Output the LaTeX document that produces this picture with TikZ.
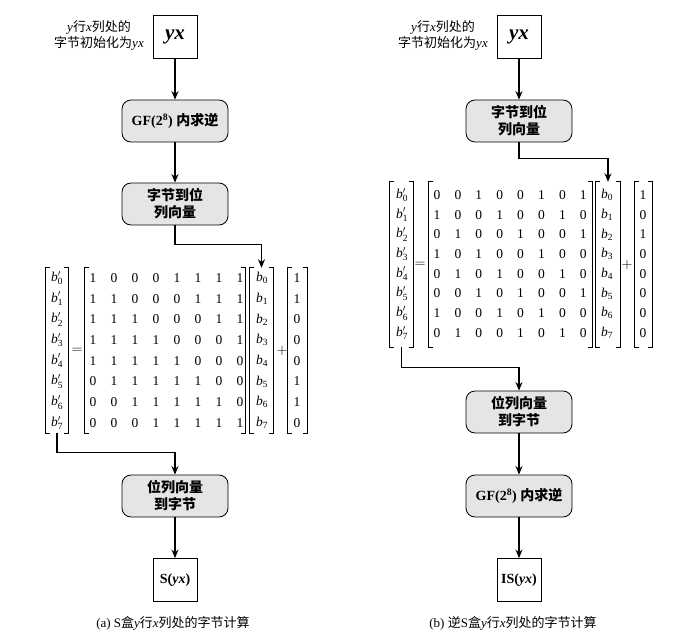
\documentclass[tikz,border=0pt]{standalone}
\usepackage{fontspec}
\setmainfont{Liberation Serif}
\newfontfamily\cjk{Noto Sans CJK SC}
\usetikzlibrary{arrows.meta}
\newcommand{\zh}[1]{{\cjk #1}}
\newcommand{\bp}[1]{\textit{b}${}'_{\mathrm{#1}}$}
\newcommand{\bq}[1]{\textit{b}${}_{\mathrm{#1}}$}
\newcommand{\vecbox}[5]{%
  \node[inner sep=0pt,minimum width=#4pt,minimum height=#5pt] (#1) at (#2,#3) {};
  \draw[brk] ([xshift=4pt]#1.north west) -- (#1.north west) -- (#1.south west) -- ([xshift=4pt]#1.south west);
  \draw[brk] ([xshift=-4pt]#1.north east) -- (#1.north east) -- (#1.south east) -- ([xshift=-4pt]#1.south east);}
\begin{document}
\begin{tikzpicture}[x=1pt,y=-1pt,
  proc/.style={draw,rounded corners=9pt,fill=gray!20,minimum width=106pt,minimum height=42pt,align=center,font=\fontsize{14}{17}\selectfont\bfseries,line width=0.8pt,inner sep=2pt},
  sq/.style={draw,minimum width=44pt,minimum height=43pt,line width=0.8pt,inner sep=0pt},
  arr/.style={-{Stealth[length=8.5pt,width=7pt]},line width=1.3pt},
  brk/.style={line width=0.9pt},
  ent/.style={font=\fontsize{13.5}{15}\selectfont,inner sep=0pt},
  lab/.style={align=center,font=\fontsize{13}{16}\selectfont,inner sep=0pt},
  captxt/.style={font=\fontsize{13}{16}\selectfont,inner sep=0pt}]
\useasboundingbox (0,0) rectangle (699,639);

% ---------------- left (a) ----------------
\node[sq] (Ain) at (175,37) {\fontsize{21}{24}\selectfont\bfseries\itshape yx};
\node[lab] (Alab) at (99,35) {\textit{y}\zh{行}\textit{x}\zh{列处的}\\\zh{字节初始化为}\textit{yx}};
\node[proc] (Agf) at (175,121) {GF(2\textsuperscript{8}) \zh{内求逆}};
\node[proc] (Ab2v) at (175,204) {\zh{字节到位}\\\zh{列向量}};

\vecbox{Abp}{57}{350.5}{22}{165}
\vecbox{Am}{165}{350.5}{160}{165}
\vecbox{Ab}{261.5}{350.5}{23}{165}
\vecbox{Ac}{297.5}{350.5}{19}{165}
\node[ent] (Aeq) at (77,350.5) {$=$};
\node[ent] (Aplus) at (282,350.5) {$+$};
\foreach \r [count=\i from 0] in {{1,0,0,0,1,1,1,1},{1,1,0,0,0,1,1,1},{1,1,1,0,0,0,1,1},{1,1,1,1,0,0,0,1},{1,1,1,1,1,0,0,0},{0,1,1,1,1,1,0,0},{0,0,1,1,1,1,1,0},{0,0,0,1,1,1,1,1}}{
  \foreach \v [count=\j from 0] in \r {
    \node[ent] (Am-\i-\j) at ({93+21*\j},{278+20.7*\i}) {\v};
  }
}
\foreach \v [count=\i from 0] in {1,1,0,0,0,1,1,0}{
  \node[ent] (Abp-\i) at (57,{278+20.7*\i}) {\bp{\i}};
  \node[ent] (Ab-\i) at (262,{278+20.7*\i}) {\bq{\i}};
  \node[ent] (Ac-\i) at (297,{278+20.7*\i}) {\v};
}
\node[proc] (Av2b) at (175,496) {\zh{位列向量}\\\zh{到字节}};
\node[sq] (Aout) at (175,580) {\fontsize{14}{17}\selectfont\textbf{S(\textit{yx})}};
\node[captxt] (Acap) at (173,623) {(a) S\zh{盒}\textit{y}\zh{行}\textit{x}\zh{列处的字节计算}};

\draw[arr] (Ain) -- (Agf);
\draw[arr] (Agf) -- (Ab2v);
\draw[arr] (Ab2v.south) -- ++(0,19) -| (Ab.north);
\draw[arr] (Abp.south) -- ++(0,19) -| (Av2b.north);
\draw[arr] (Av2b) -- (Aout);

% ---------------- right (b) ----------------
\node[sq] (Bin) at (519,37) {\fontsize{21}{24}\selectfont\bfseries\itshape yx};
\node[lab] (Blab) at (443,35) {\textit{y}\zh{行}\textit{x}\zh{列处的}\\\zh{字节初始化为}\textit{yx}};
\node[proc] (Bb2v) at (519,121) {\zh{字节到位}\\\zh{列向量}};

\vecbox{Bbp}{401.5}{264.5}{23}{165}
\vecbox{Bm}{510.5}{264.5}{163}{165}
\vecbox{Bb}{608}{264.5}{24}{165}
\vecbox{Bc}{643.5}{264.5}{17}{165}
\node[ent] (Beq) at (420,264.5) {$=$};
\node[ent] (Bplus) at (627,264.5) {$+$};
\foreach \r [count=\i from 0] in {{0,0,1,0,0,1,0,1},{1,0,0,1,0,0,1,0},{0,1,0,0,1,0,0,1},{1,0,1,0,0,1,0,0},{0,1,0,1,0,0,1,0},{0,0,1,0,1,0,0,1},{1,0,0,1,0,1,0,0},{0,1,0,0,1,0,1,0}}{
  \foreach \v [count=\j from 0] in \r {
    \node[ent] (Bm-\i-\j) at ({437+20.9*\j},{195+19.7*\i}) {\v};
  }
}
\foreach \v [count=\i from 0] in {1,0,1,0,0,0,0,0}{
  \node[ent] (Bbp-\i) at (402,{195+19.7*\i}) {\bp{\i}};
  \node[ent] (Bb-\i) at (607,{195+19.7*\i}) {\bq{\i}};
  \node[ent] (Bc-\i) at (643,{195+19.7*\i}) {\v};
}
\node[proc] (Bv2b) at (519,412) {\zh{位列向量}\\\zh{到字节}};
\node[proc] (Bgf) at (519,496) {GF(2\textsuperscript{8}) \zh{内求逆}};
\node[sq] (Bout) at (519,580) {\fontsize{14}{17}\selectfont\textbf{IS(\textit{yx})}};
\node[captxt] (Bcap) at (513,623) {(b) \zh{逆}S\zh{盒}\textit{y}\zh{行}\textit{x}\zh{列处的字节计算}};

\draw[arr] (Bin) -- (Bb2v);
\draw[arr] (Bb2v.south) -- ++(0,16) -| (Bb.north);
\draw[arr] (Bbp.south) -- ++(0,20) -| (Bv2b.north);
\draw[arr] (Bv2b) -- (Bgf);
\draw[arr] (Bgf) -- (Bout);
\end{tikzpicture}
\end{document}
